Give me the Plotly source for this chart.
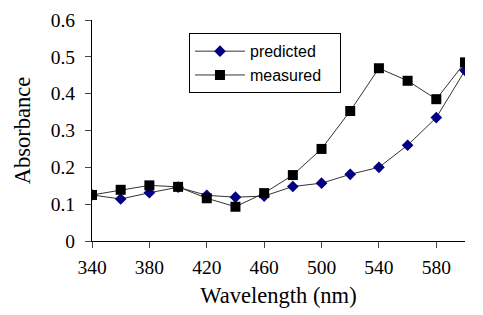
import plotly.graph_objects as go

wavelength = [340, 360, 380, 400, 420, 440, 460, 480, 500, 520, 540, 560, 580, 600]
predicted = [0.125, 0.114, 0.131, 0.146, 0.124, 0.119, 0.122, 0.148, 0.157, 0.181, 0.200, 0.260, 0.335, 0.463]
measured = [0.125, 0.139, 0.151, 0.147, 0.116, 0.093, 0.130, 0.179, 0.250, 0.353, 0.469, 0.435, 0.385, 0.485]
x_ticks = [340, 380, 420, 460, 500, 540, 580]
y_ticks = [0, 0.1, 0.2, 0.3, 0.4, 0.5, 0.6]
y_labels = ["0", "0.1", "0.2", "0.3", "0.4", "0.5", "0.6"]

fig = go.Figure()
fig.add_trace(go.Scatter(x=wavelength, y=predicted, mode="lines+markers", name="predicted&nbsp;&nbsp;&nbsp;",
                         line=dict(color="#333333", width=1),
                         marker=dict(symbol="diamond", size=9, color="#000080")))
fig.add_trace(go.Scatter(x=wavelength, y=measured, mode="lines+markers", name="measured&nbsp;&nbsp;&nbsp;",
                         line=dict(color="#333333", width=1),
                         marker=dict(symbol="square", size=10, color="#000000")))

serif = "Liberation Serif, Times New Roman, serif"
fig.update_layout(
    width=483, height=315,
    margin=dict(l=84, r=26, t=12, b=82, autoexpand=False),
    paper_bgcolor="white", plot_bgcolor="white",
    font=dict(family=serif, size=19, color="black"),
    showlegend=True,
    legend=dict(x=0.26, y=0.94, xanchor="left", yanchor="top",
                bordercolor="black", borderwidth=1, bgcolor="white",
                font=dict(family="Liberation Sans, Arial, sans-serif", size=16),
                itemwidth=50, tracegroupgap=0),
    xaxis=dict(range=[340, 600], tickvals=x_ticks, ticks="outside", ticklen=6, automargin=False,
               ticklabelstandoff=3,
               showline=True, linecolor="black", linewidth=1, showgrid=False, zeroline=False,
               title=dict(text="Wavelength (nm)", font=dict(family=serif, size=22.5), standoff=9),
               tickfont=dict(family=serif, size=19.5)),
    yaxis=dict(range=[0, 0.6], tickvals=y_ticks, ticktext=y_labels, automargin=False,
               ticks="outside", ticklen=6, ticklabelstandoff=6,
               showline=True, linecolor="black", linewidth=1, showgrid=False, zeroline=False,
               title=dict(text="Absorbance", font=dict(family=serif, size=22.5), standoff=13),
               tickfont=dict(family=serif, size=19.5)),
)
fig.write_html("out.html")
